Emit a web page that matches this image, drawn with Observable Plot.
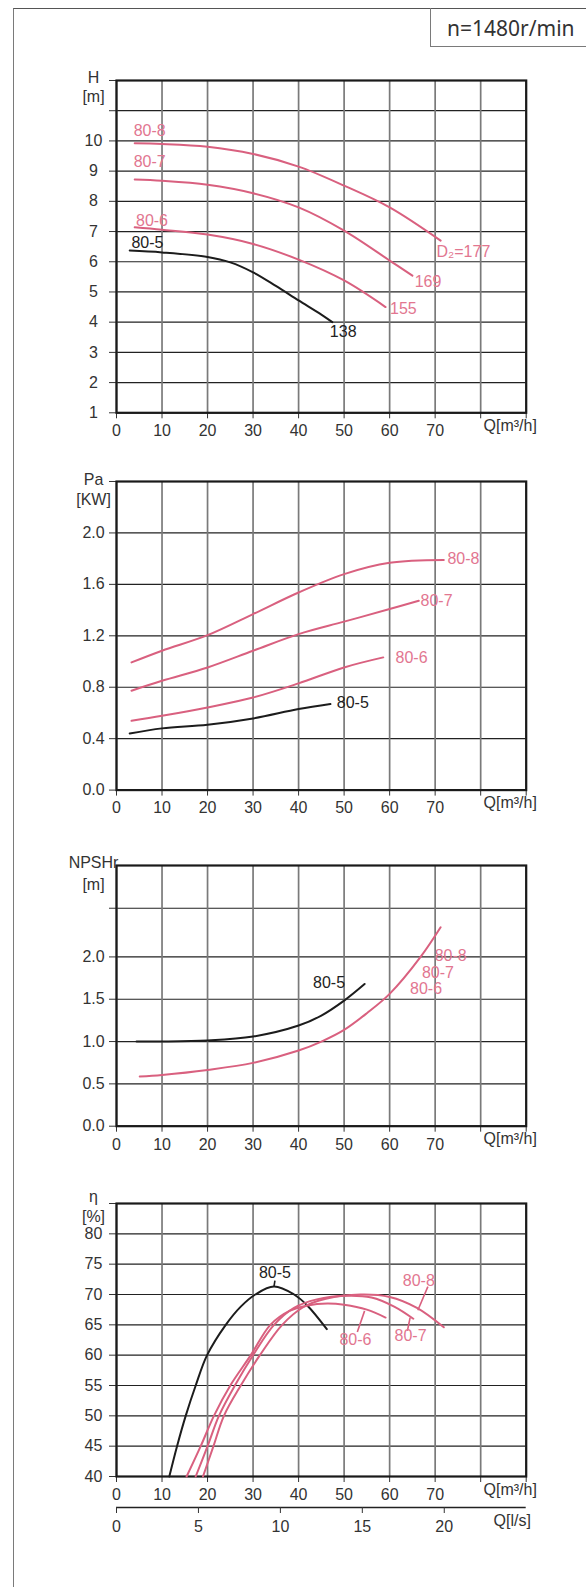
<!DOCTYPE html>
<html>
<head>
<meta charset="utf-8">
<script src="https://cdn.jsdelivr.net/npm/d3@7"></script>
<script src="https://cdn.jsdelivr.net/npm/@observablehq/plot@0.6"></script>
<style>
  html, body { margin: 0; padding: 0; background: #fff; }
  #wrap { position: relative; width: 586px; height: 1587px; overflow: hidden; font-family: "Liberation Sans", Arial, sans-serif; color: #333; }
  #outer { position: absolute; left: 13px; top: 8px; right: -5px; bottom: -5px; border-left: 1.5px solid #7a7a7a; border-top: 1.5px solid #555; }
  #nbox { position: absolute; left: 430px; top: 8px; width: 160px; height: 39px; border-left: 1.5px solid #7a7a7a; border-bottom: 1.5px solid #7a7a7a; font-family: "Noto Sans", "Open Sans", sans-serif; font-size: 21px; color: #333; line-height: 41px; padding-left: 16px; box-sizing: border-box; }
  svg { position: absolute; left: 0; }
</style>
</head>
<body>
<div id="wrap">
  <div id="outer"></div>
  <div id="nbox">n=1480r/min</div>
</div>
<script>
// ---------- data ----------
const pumps = ["80-5", "80-6", "80-7", "80-8"];
const xTicks = [0, 10, 20, 30, 40, 50, 60, 70, 80, 90];
const xTickLabels = [0, 10, 20, 30, 40, 50, 60, 70];
const lsTicks = [0, 5, 10, 15, 20];

// Head H [m]
const hTicks = [1, 2, 3, 4, 5, 6, 7, 8, 9, 10, 11, 12];
const hTickLabels = [1, 2, 3, 4, 5, 6, 7, 8, 9, 10];
const h805 = [[2.9, 6.37], [10, 6.31], [20, 6.16], [25, 5.98], [30, 5.65], [35, 5.2], [40, 4.72], [45, 4.25], [47.4, 4.0]];
const h806 = [[4, 7.14], [10, 7.06], [20, 6.9], [30, 6.59], [40, 6.07], [50, 5.38], [59.1, 4.5]];
const h807 = [[4, 8.72], [10, 8.68], [20, 8.55], [30, 8.27], [40, 7.8], [50, 7.03], [60, 6.04], [65, 5.54]];
const h808 = [[4, 9.92], [10, 9.9], [20, 9.81], [30, 9.57], [40, 9.15], [50, 8.52], [60, 7.8], [71.2, 6.7]];
const hNameLabels = [["80-5", 6.8, 6.62], ["80-6", 7.8, 7.34], ["80-7", 7.3, 9.31], ["80-8", 7.3, 10.34]];
const hDiamLabels = [["D₂=177", 70.3, 6.34], ["169", 65.5, 5.32], ["155", 60.1, 4.44]];
const hDiam805 = ["138", 49.8, 3.67];

// Power Pa [KW]
const paTicks = [0, 0.4, 0.8, 1.2, 1.6, 2.0, 2.4];
const paTickLabels = [0, 0.4, 0.8, 1.2, 1.6, 2.0];
const pa805 = [[2.9, 0.44], [10, 0.48], [20, 0.508], [30, 0.557], [40, 0.63], [47, 0.669]];
const pa806 = [[3.3, 0.539], [10, 0.578], [20, 0.643], [30, 0.72], [40, 0.83], [50, 0.954], [58.6, 1.032]];
const pa807 = [[3.3, 0.773], [10, 0.85], [20, 0.954], [30, 1.084], [40, 1.213], [50, 1.31], [60, 1.408], [66.4, 1.472]];
const pa808 = [[3.3, 0.993], [10, 1.084], [20, 1.205], [30, 1.369], [40, 1.537], [50, 1.68], [60, 1.768], [71.9, 1.79]];
const paLabels = [["80-5", 48.4, 0.677], ["80-6", 61.3, 1.027], ["80-7", 66.8, 1.472], ["80-8", 72.7, 1.796]];

// NPSHr [m]
const npTicks = [0, 0.5, 1.0, 1.5, 2.0, 2.575];
const npTickLabels = [0, 0.5, 1.0, 1.5, 2.0];
const np805 = [[4.4, 1.0], [10, 1.0], [20, 1.012], [30, 1.059], [40, 1.189], [45, 1.307], [50, 1.484], [54.5, 1.68]];
const np806to808 = [[5.1, 0.587], [10, 0.606], [20, 0.665], [30, 0.748], [40, 0.894], [45, 1.0], [50, 1.138], [55, 1.335], [60, 1.563], [66.8, 2.0], [71.2, 2.35]];
const npLabels = [["80-5", 46.7, 1.69], ["80-8", 73.4, 2.01], ["80-7", 70.6, 1.81], ["80-6", 68.0, 1.62]];

// Efficiency η [%]
const effTicks = [40, 45, 50, 55, 60, 65, 70, 75, 80, 85];
const effTickLabels = [40, 45, 50, 55, 60, 65, 70, 75, 80];
const eff805 = [[11.6, 40], [13.3, 45], [15.2, 50], [17.4, 55], [19.9, 60], [24, 65], [27.3, 68], [30.5, 70], [34.6, 71.3], [39, 70], [41.9, 68.2], [46.2, 64.3]];
const eff806 = [[15.4, 40], [18.5, 45], [21.4, 50], [25, 55], [29.5, 60], [33.8, 65], [38, 67.3], [42, 68.2], [46.3, 68.5], [50, 68.3], [55, 67.5], [59.1, 66.2]];
const eff807 = [[17.4, 40], [20, 45], [22.5, 50], [26, 55], [30, 60], [34.6, 65], [39, 67.8], [44, 69.2], [50.7, 69.8], [56, 69.5], [61, 68], [65.2, 66]];
const eff808 = [[19, 40], [21.3, 45], [23.6, 50], [27.3, 55], [31.5, 60], [36.4, 65], [41, 67.9], [46, 69.3], [53.6, 70], [60, 69.6], [66, 67.8], [71.9, 64.6]];
const effLabels = [["80-5", 34.8, 73.5], ["80-6", 52.5, 62.6], ["80-7", 64.6, 63.1], ["80-8", 66.4, 72.3]];
const effLeaders = [["80-5", 34.8, 72.3, 34.6, 71.3], ["80-6", 52.9, 63.8, 54.5, 67.3], ["80-7", 63.9, 64.0, 64.5, 66.2], ["80-8", 68.4, 71.3, 66.2, 67.4]];

// ---------- styling ----------
const PINK = "#d9607f";
const PINK_TXT = "#e27690";
const BLACK = "#1c1c1c";
const colorOf = name => name === "80-5" ? BLACK : PINK;
const textColorOf = name => name === "80-5" ? "#222" : PINK_TXT;
const FONT = "Liberation Sans, Arial, sans-serif";
const FS = 16;
const W = 586, ML = 116, MR = 60.3, MT = 30, MB = 32;

const wrap = document.getElementById("wrap");

function lineMark(data, name) {
  return Plot.line(data, {x: d => d[0], y: d => d[1], stroke: colorOf(name), strokeWidth: 2, curve: "catmull-rom"});
}
function labelMark(rows, opts = {}) {
  return Plot.text(rows, {x: d => d[1], y: d => d[2], text: d => d[0], fill: d => textColorOf(d[0]), fontSize: 16, ...opts});
}

function panel({frameTop, frameBottom, yDomain, yTicks, yTickLabels, yFmt, unitTop, unitBottom, unitDy, marks}) {
  const h = frameBottom - frameTop;
  const svg = Plot.plot({
    width: W, height: h + MT + MB,
    marginLeft: ML, marginRight: MR, marginTop: MT, marginBottom: MB,
    style: {fontFamily: FONT, fontSize: FS + "px", color: "#333", background: "transparent", overflow: "visible"},
    x: {domain: [0, 90]},
    y: {domain: yDomain},
    marks: [
      Plot.gridY({ticks: yTicks, stroke: "#222", strokeOpacity: 1, strokeWidth: 1.2}),
      Plot.gridX({ticks: xTicks, stroke: "#7a7a7a", strokeOpacity: 1, strokeWidth: 1.7}),
      Plot.axisY({ticks: yTicks, tickSize: 7, tickPadding: 16, textAnchor: "middle", label: null, fontSize: FS,
        tickFormat: d => yTickLabels.includes(d) ? yFmt(d) : ""}),
      Plot.axisX({ticks: xTicks, tickSize: 6, tickPadding: 6, label: null, fontSize: FS,
        tickFormat: d => xTickLabels.includes(d) ? String(d) : ""}),
      Plot.frame({stroke: "#1a1a1a", strokeWidth: 2.2}),
      ...marks,
      Plot.text([unitTop], {frameAnchor: "top-left", textAnchor: "middle", dx: -23, dy: unitDy[0], fontSize: FS, fill: "#333"}),
      Plot.text([unitBottom], {frameAnchor: "top-left", textAnchor: "middle", dx: -23, dy: unitDy[1], fontSize: FS, fill: "#333"}),
      Plot.text(["Q[m³/h]"], {frameAnchor: "bottom-right", textAnchor: "middle", dx: -16, dy: 18, fontSize: FS, fill: "#333"})
    ]
  });
  svg.style.top = (frameTop - MT) + "px";
  wrap.appendChild(svg);
}

// Panel 1: H
panel({
  frameTop: 80, frameBottom: 412.3, yDomain: [1, 12], yTicks: hTicks, yTickLabels: hTickLabels,
  yFmt: d => String(d), unitTop: "H", unitBottom: "[m]", unitDy: [-9, 10],
  marks: [
    lineMark(h805, "80-5"), lineMark(h806, "80-6"), lineMark(h807, "80-7"), lineMark(h808, "80-8"),
    labelMark(hNameLabels),
    labelMark(hDiamLabels, {textAnchor: "start", fill: PINK_TXT}),
    labelMark([hDiam805], {fill: "#222"})
  ]
});

// Panel 2: Pa
panel({
  frameTop: 480.7, frameBottom: 789.3, yDomain: [0, 2.4], yTicks: paTicks, yTickLabels: paTickLabels,
  yFmt: d => d.toFixed(1), unitTop: "Pa", unitBottom: "[KW]", unitDy: [-8, 12],
  marks: [
    lineMark(pa805, "80-5"), lineMark(pa806, "80-6"), lineMark(pa807, "80-7"), lineMark(pa808, "80-8"),
    labelMark(paLabels, {textAnchor: "start"})
  ]
});

// Panel 3: NPSHr
panel({
  frameTop: 865, frameBottom: 1125.7, yDomain: [0, 3.08], yTicks: npTicks, yTickLabels: npTickLabels,
  yFmt: d => d.toFixed(1), unitTop: "NPSHr", unitBottom: "[m]", unitDy: [-9, 13],
  marks: [
    lineMark(np805, "80-5"), lineMark(np806to808, "80-6"),
    labelMark(npLabels)
  ]
});

// Panel 4: efficiency
panel({
  frameTop: 1202.7, frameBottom: 1475.7, yDomain: [40, 85], yTicks: effTicks, yTickLabels: effTickLabels,
  yFmt: d => String(d), unitTop: "η", unitBottom: "[%]", unitDy: [-13, 7],
  marks: [
    lineMark(eff805, "80-5"), lineMark(eff806, "80-6"), lineMark(eff807, "80-7"), lineMark(eff808, "80-8"),
    Plot.link(effLeaders, {x1: d => d[1], y1: d => d[2], x2: d => d[3], y2: d => d[4], stroke: d => colorOf(d[0]), strokeWidth: 1.6}),
    labelMark(effLabels)
  ]
});

// Secondary axis: Q [l/s]
{
  const top = 1490, lineY = 1507, mt = lineY - top, mb = 43;
  const svg = Plot.plot({
    width: W, height: mt + mb, marginLeft: ML, marginRight: MR, marginTop: mt, marginBottom: mb,
    style: {fontFamily: FONT, fontSize: FS + "px", color: "#333", background: "transparent", overflow: "visible"},
    x: {domain: [0, 25]},
    y: {domain: [0, 1], axis: null},
    marks: [
      Plot.ruleY([0], {stroke: "#222", strokeWidth: 1.5}),
      Plot.axisX({ticks: lsTicks, tickSize: 6, tickPadding: 7, label: null, fontSize: FS}),
      Plot.text(["Q[l/s]"], {frameAnchor: "bottom-right", textAnchor: "middle", dx: -14, dy: 18, fontSize: FS, fill: "#333"})
    ]
  });
  svg.style.top = top + "px";
  wrap.appendChild(svg);
}
</script>
</body>
</html>
